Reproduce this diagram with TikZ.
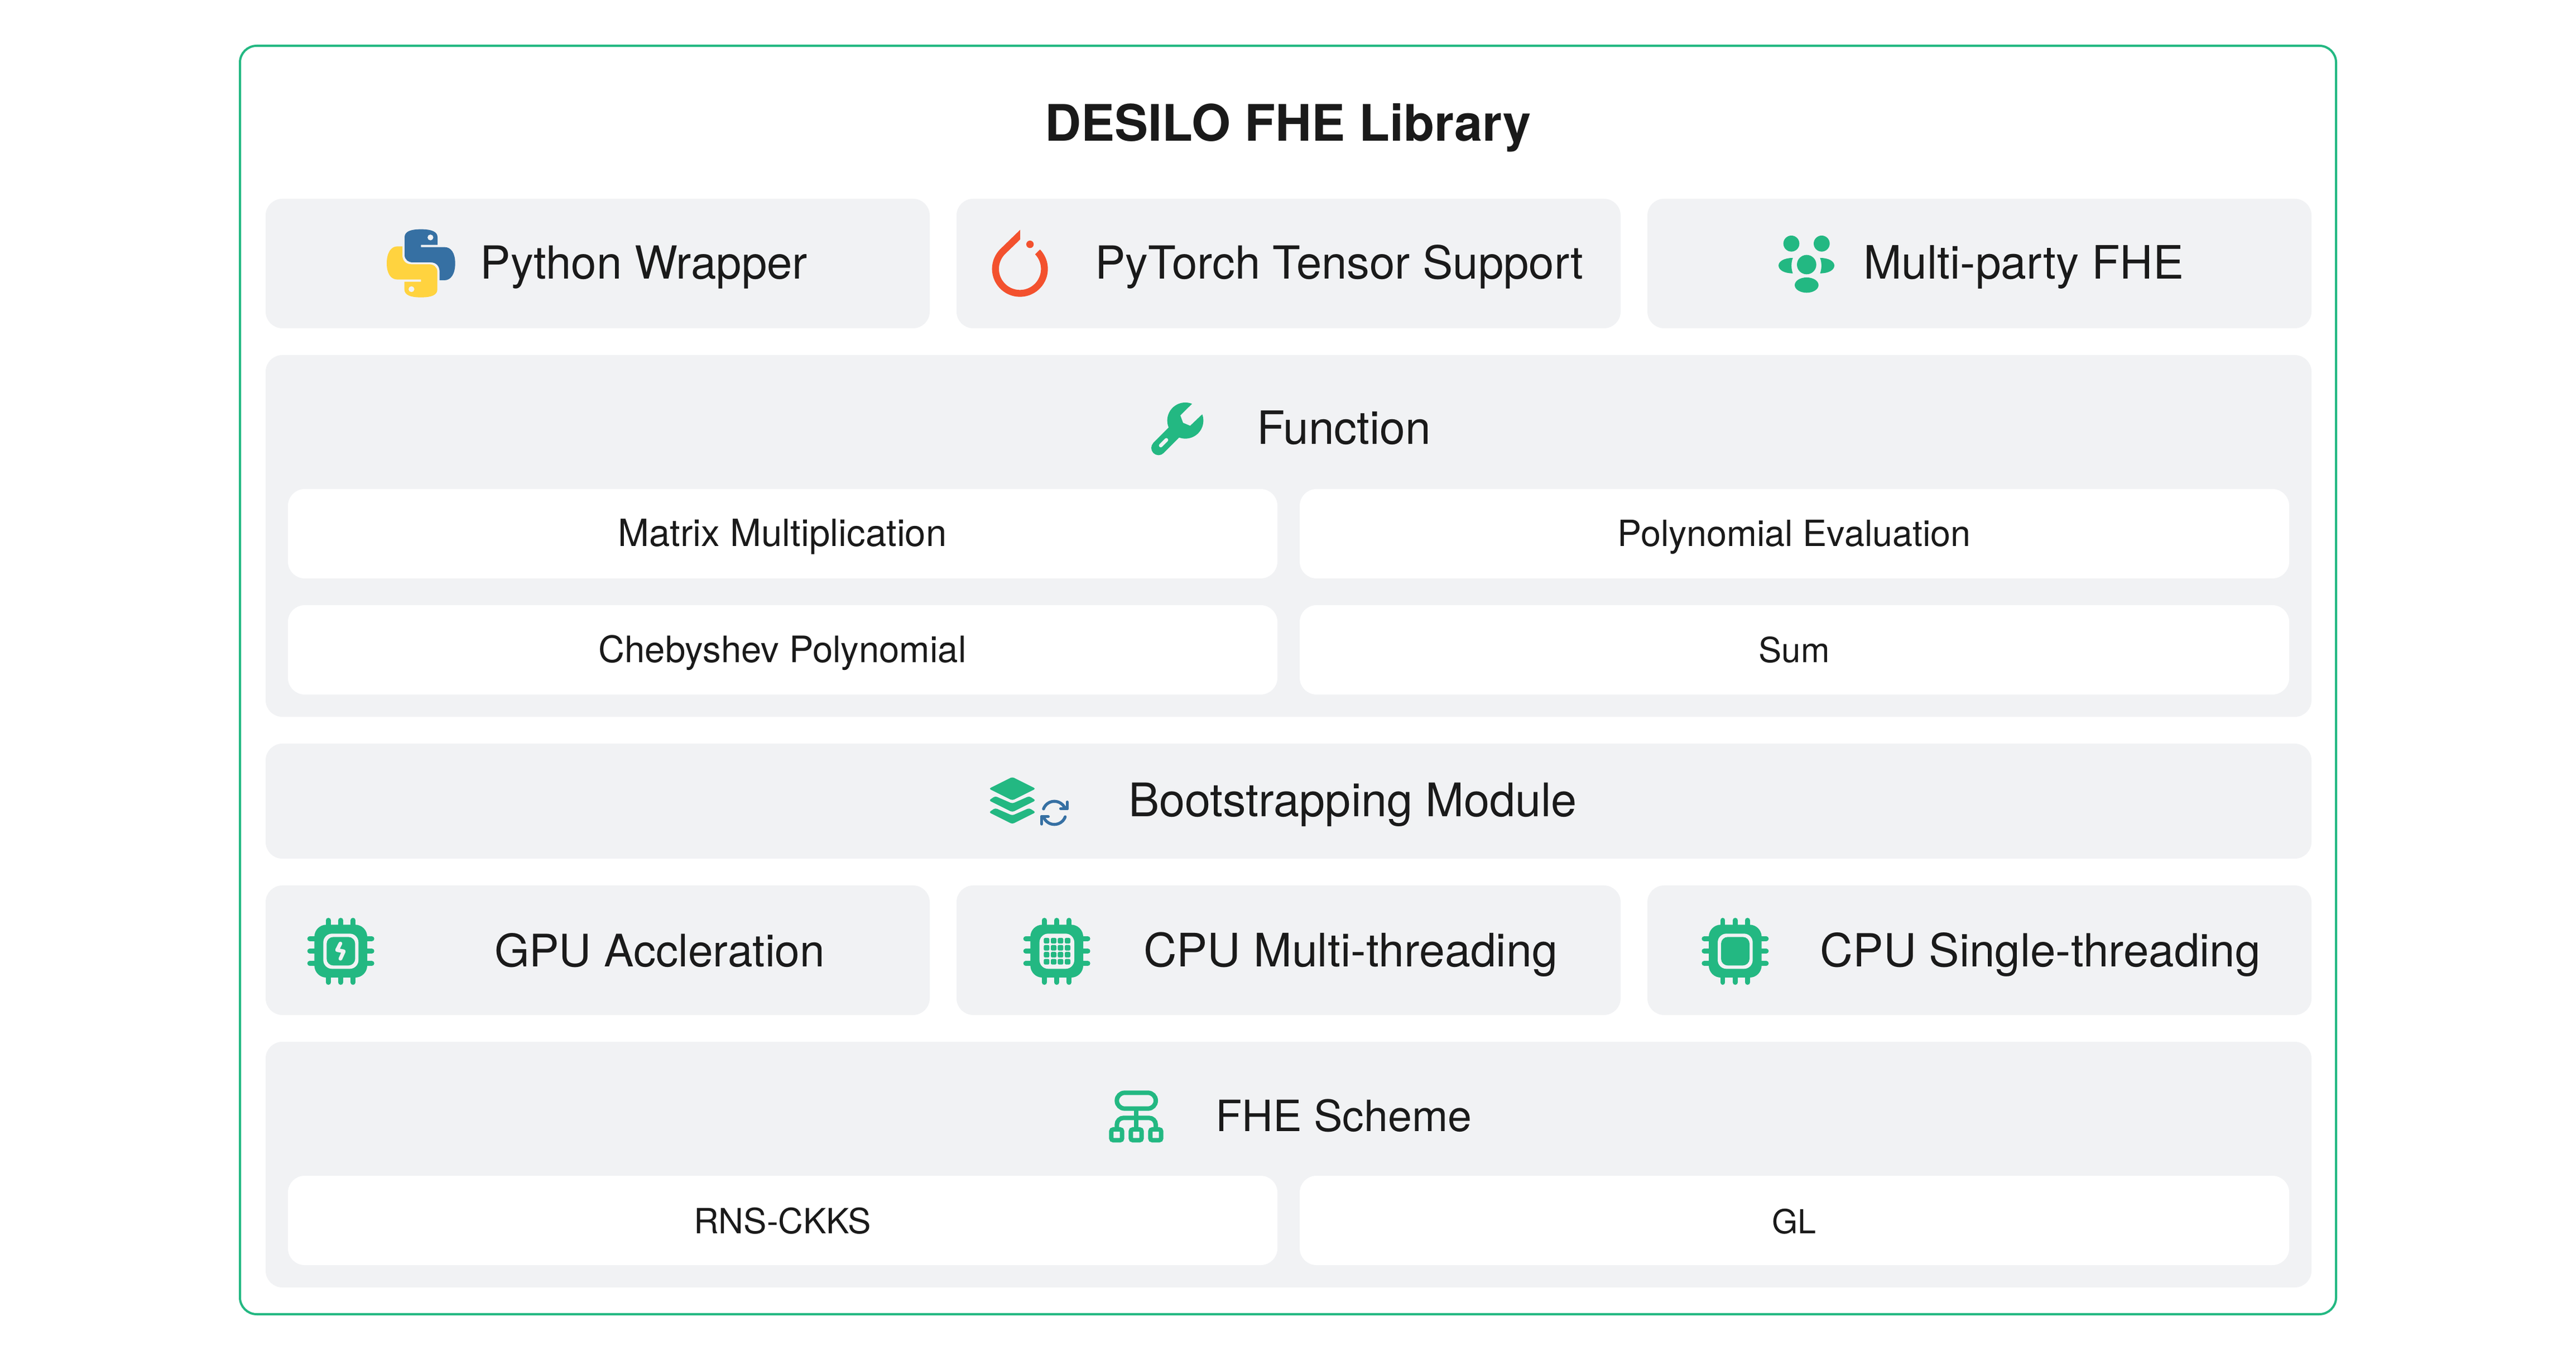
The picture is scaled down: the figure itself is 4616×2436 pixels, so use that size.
\documentclass[tikz,border=0pt]{standalone}
\usepackage{fontspec}
\usepackage{graphicx}
\setmainfont{TeX Gyre Heros}
\definecolor{brand}{HTML}{23B882}
\definecolor{panelbg}{HTML}{F1F2F4}
\definecolor{ink}{HTML}{1A1A1A}
\definecolor{pyblue}{HTML}{3670A3}
\definecolor{pyyellow}{HTML}{FFD33F}
\definecolor{torch}{HTML}{F3512E}
\newcommand{\fitbig}[2]{\resizebox{#1pt}{!}{\fontsize{20}{24}\selectfont #2}}
\newcommand{\fitbold}[2]{\resizebox{#1pt}{!}{\fontsize{24}{28}\selectfont\bfseries #2}}
% box from (x0,y0) to (x1,y1) in reference pixels
\newcommand{\boxnode}[6]{\node[#1,minimum width={(#5-#3)*0.25pt},minimum height={(#6-#4)*0.25pt}] (#2) at ({(#3+#5)/2},{(#4+#6)/2}) {};}
\newcommand{\chipbase}[1]{%
  \fill[brand,rounded corners=5.4pt] (-142,79) rectangle (142,363);
  \foreach \p in {-67,0,66} {
    \draw[pin] (\p,55) -- (\p,90);
    \draw[pin] (\p,352) -- (\p,389);
    \draw[pin] (-167,{221+\p}) -- (-120,{221+\p});
    \draw[pin] (167,{221+\p}) -- (120,{221+\p});
  }}
\tikzset{
  panel/.style={fill=panelbg,rounded corners=7.5pt,inner sep=0pt,outer sep=0pt},
  cell/.style={fill=white,rounded corners=7.5pt,inner sep=0pt,outer sep=0pt},
  frame/.style={draw=brand,line width=1pt,fill=white,rounded corners=7.5pt,inner sep=0pt,outer sep=0pt},
  big/.style={anchor=base,inner sep=0pt,outer sep=0pt,text=ink},
  izoom/.style 2 args={shift={(#1,#2)},x=0.083333pt,y=-0.083333pt},
  pin/.style={brand,line width=2.17pt,line cap=round},
  hole/.style={panelbg,line cap=round,line join=round},
}
\begin{document}
\begin{tikzpicture}[x=0.25pt,y=-0.25pt]
\useasboundingbox (0,0) rectangle (4616,2436);
\fill[white] (0,0) rectangle (4616,2436);

\boxnode{frame}{outer}{430}{82}{4186}{2354}
\node[big] (title) at (2308,253) {\fitbold{217.75}{DESILO FHE Library}};

% row 1
\boxnode{panel}{python}{476}{356}{1666}{588}
\boxnode{panel}{pytorch}{1714}{356}{2904}{588}
\boxnode{panel}{multi}{2952}{356}{4142}{588}
\node[big] (tpython) at (1154,500) {\fitbig{146.5}{Python Wrapper}};
\node[big] (tpytorch) at (2400,500) {\fitbig{218.75}{PyTorch Tensor Support}};
\node[big] (tmulti) at (3626,500) {\fitbig{143.5}{Multi-party FHE}};

% function
\boxnode{panel}{function}{476}{636}{4142}{1284}
\node[big] (tfunction) at (2408,796) {\fitbig{78}{Function}};
\boxnode{cell}{matrix}{516}{876}{2289}{1036}
\boxnode{cell}{poly}{2329}{876}{4102}{1036}
\boxnode{cell}{cheb}{516}{1084}{2289}{1244}
\boxnode{cell}{sum}{2329}{1084}{4102}{1244}
\node[big] (tmatrix) at (1402,979) {\fitbig{147.25}{Matrix Multiplication}};
\node[big] (tpoly) at (3215,979) {\fitbig{158.25}{Polynomial Evaluation}};
\node[big] (tcheb) at (1402,1187) {\fitbig{164.75}{Chebyshev Polynomial}};
\node[big] (tsum) at (3215,1187) {\fitbig{31.75}{Sum}};

% bootstrapping
\boxnode{panel}{boot}{476}{1332}{4142}{1538}
\node[big] (tboot) at (2424,1463) {\fitbig{201}{Bootstrapping Module}};

% hardware row
\boxnode{panel}{gpu}{476}{1586}{1666}{1818}
\boxnode{panel}{cpum}{1714}{1586}{2904}{1818}
\boxnode{panel}{cpus}{2952}{1586}{4142}{1818}
\node[big] (tgpu) at (1182,1731) {\fitbig{148}{GPU Accleration}};
\node[big] (tcpum) at (2420,1731) {\fitbig{185.5}{CPU Multi-threading}};
\node[big] (tcpus) at (3656,1731) {\fitbig{197.25}{CPU Single-threading}};

% scheme
\boxnode{panel}{scheme}{476}{1866}{4142}{2306}
\node[big] (tscheme) at (2408,2026) {\fitbig{114.75}{FHE Scheme}};
\boxnode{cell}{rns}{516}{2106}{2289}{2266}
\boxnode{cell}{gl}{2329}{2106}{4102}{2266}
\node[big] (trns) at (1402,2209) {\fitbig{79.5}{RNS-CKKS}};
\node[big] (tgl) at (3215,2209) {\fitbig{19.75}{GL}};

% python icon
\begin{scope}[izoom={660}{380}]
\fill[pyblue,even odd rule] (283,92) .. controls (225,92) and (195,105) .. (195,135) -- (195,230)
  .. controls (195,255) and (215,270) .. (240,270) -- (335,270)
  .. controls (365,270) and (383,290) .. (383,320) -- (383,366) -- (410,366)
  .. controls (445,366) and (467,330) .. (467,275)
  .. controls (467,220) and (445,188) .. (410,188) -- (283,188) -- (283,176) -- (372,176) -- (372,135)
  .. controls (372,105) and (340,92) .. (283,92) -- cycle
  (334,136) circle[radius=16];
\fill[pyyellow,even odd rule] (283,458) .. controls (341,458) and (371,445) .. (371,415) -- (371,320)
  .. controls (371,295) and (351,280) .. (326,280) -- (231,280)
  .. controls (201,280) and (183,260) .. (183,230) -- (183,184) -- (156,184)
  .. controls (121,184) and (99,220) .. (99,275)
  .. controls (99,330) and (121,362) .. (156,362) -- (283,362) -- (283,374) -- (194,374) -- (194,415)
  .. controls (194,445) and (226,458) .. (283,458) -- cycle
  (232,414) circle[radius=16];
\end{scope}

% pytorch icon
\begin{scope}[izoom={1740}{390}]
\fill[torch] (264,65) -- plot[domain=135:404,samples=70] ({263+150*cos(\x)},{275-150*sin(\x)})
  -- plot[domain=404:135,samples=70] ({263+113*cos(\x)},{275-113*sin(\x)}) -- (264,117) -- cycle;
\fill[torch] (317,143) circle[radius=20];
\end{scope}

% people icon
\begin{scope}[izoom={3160}{390}]
\fill[brand] (150,139) circle[radius=43];
\fill[brand] (313,139) circle[radius=43];
\fill[brand] (232,252) circle[radius=52];
\fill[brand] (232,362) ellipse[x radius=64,y radius=41];
\fill[brand] (158,216) .. controls (110,216) and (81,235) .. (81,257) .. controls (81,280) and (110,299) .. (158,299) .. controls (148,275) and (148,240) .. (158,216) -- cycle;
\fill[brand] (304,216) .. controls (352,216) and (381,235) .. (381,257) .. controls (381,280) and (352,299) .. (304,299) .. controls (314,275) and (314,240) .. (304,216) -- cycle;
\end{scope}

% wrench icon
\begin{scope}[izoom={2040}{700}]
\draw[brand,line width=6.5pt,line cap=round] (108,307) -- (200,215);
\fill[brand] (288,70) -- plot[domain=68:380,samples=70] ({252+97*cos(\x)},{160-97*sin(\x)})
  -- (342,127) -- (278,188) -- (240,172) -- (225,132) -- cycle;
\draw[hole,line width=1.67pt] (120,294) -- (150,264);
\end{scope}

% layers + sync icon
\begin{scope}[izoom={1750}{1370}]
\fill[brand,rounded corners=0.9pt] (192,65) -- (318,128) -- (192,191) -- (66,128) -- cycle;
\fill[brand,rounded corners=0.9pt] (100,168) -- (192,208) -- (283,168) -- (318,191) -- (192,254) -- (66,191) -- cycle;
\fill[brand,rounded corners=0.9pt] (100,232) -- (192,272) -- (283,232) -- (318,255) -- (192,318) -- (66,255) -- cycle;
\draw[pyblue,line width=1.33pt,line cap=round,line join=round]
  plot[domain=160:30,samples=30] ({418+62*cos(\x)},{258-62*sin(\x)}) -- (487,235);
\draw[pyblue,line width=1.33pt,line cap=round,line join=round] (487,200) -- (487,235) -- (452,235);
\draw[pyblue,line width=1.33pt,line cap=round,line join=round]
  plot[domain=-20:-150,samples=30] ({418+62*cos(\x)},{258-62*sin(\x)}) -- (350,278);
\draw[pyblue,line width=1.33pt,line cap=round,line join=round] (350,318) -- (350,278) -- (385,278);
\end{scope}

% chip with bolt
\begin{scope}[izoom={610.67}{1630}]
\chipbase{}
\fill[panelbg,rounded corners=3.9pt] (-94,127) rectangle (95,316);
\fill[brand,rounded corners=3pt] (-76,145) rectangle (77,298);
\draw[hole,line width=1.67pt,line join=round] (-2,180) -- (-20,215) -- (16,222) -- (-2,262);
\end{scope}

% chip with grid
\begin{scope}[izoom={1893.67}{1630}]
\chipbase{}
\fill[panelbg,rounded corners=3.9pt] (-93,127) rectangle (94,316);
\foreach \gx in {-70,-32,5,43} \foreach \gy in {150,188,225,263}
  \fill[brand,rounded corners=0.6pt] (\gx,\gy) rectangle ++(30,30);
\end{scope}

% plain chip
\begin{scope}[izoom={3109.33}{1630}]
\chipbase{}
\fill[panelbg,rounded corners=3.9pt] (-94,127) rectangle (94,316);
\fill[brand,rounded corners=3pt] (-76,145) rectangle (77,298);
\end{scope}

% tree icon
\begin{scope}[izoom={1960}{1930},brand,line width=2pt]
\draw[rounded corners=3.5pt] (124,82) rectangle (333,167);
\draw (229,167) -- (229,275);
\draw[rounded corners=3pt] (124,275) -- (124,217) -- (333,217) -- (333,275);
\foreach \bx in {123,228,333}
  \draw[rounded corners=0.9pt] ({\bx-29},279) rectangle ({\bx+29},337);
\end{scope}
\end{tikzpicture}
\end{document}
